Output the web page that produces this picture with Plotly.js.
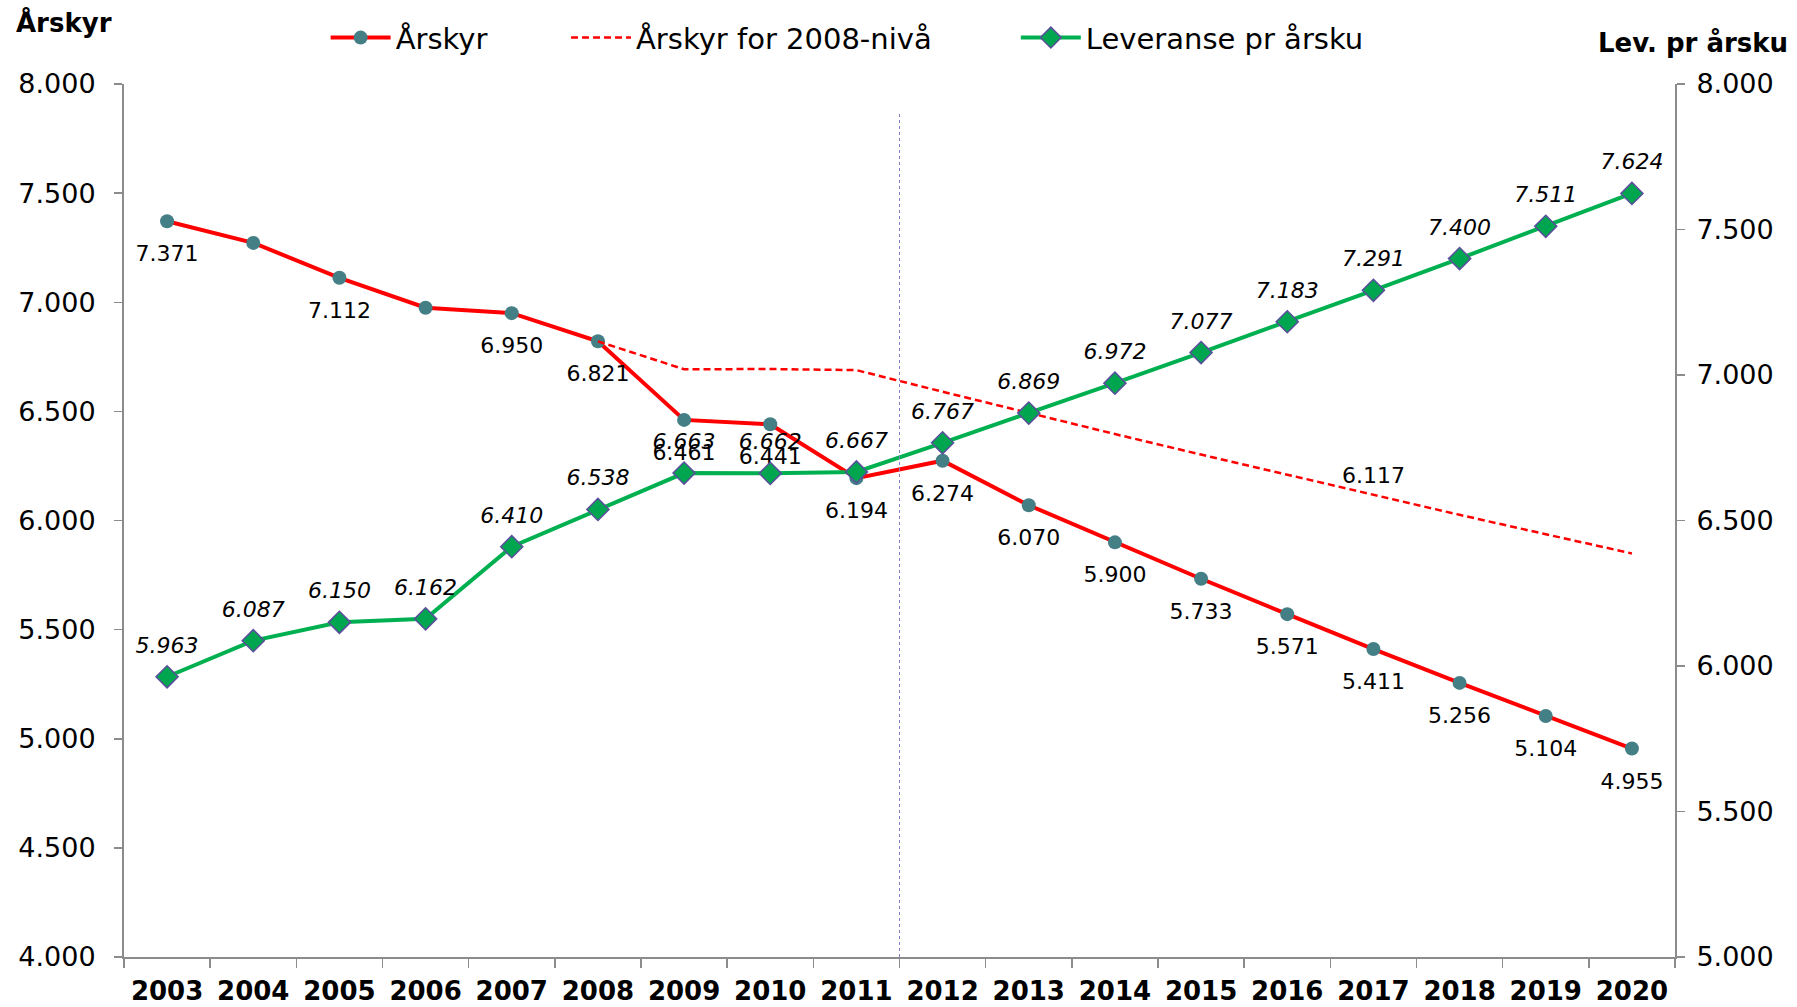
<!DOCTYPE html>
<html>
<head>
<meta charset="utf-8">
<script src="https://cdn.plot.ly/plotly-3.0.1.min.js"></script>
<style>html,body{margin:0;padding:0;background:#fff;}#chart{width:1797px;height:1007px;}</style>
</head>
<body>
<div id="chart"></div>
<script>
var years = ['2003','2004','2005','2006','2007','2008','2009','2010','2011','2012','2013','2014','2015','2016','2017','2018','2019','2020'];
var arskyr = [7371, 7272, 7112, 6975, 6950, 6821, 6461, 6441, 6194, 6274, 6070, 5900, 5733, 5571, 5411, 5256, 5104, 4955];
var arskyrLabelShown = [true, false, true, false, true, true, true, true, true, true, true, true, true, true, true, true, true, true];
var arskyr2008 = [null, null, null, null, null, 6821, 6693, 6694, 6689, 6590, 6492, 6396, 6302, 6209, 6117, 6026, 5937, 5849];
var arskyr2008LabelYear = '2017';
var levPrArsku = [5963, 6087, 6150, 6162, 6410, 6538, 6663, 6662, 6667, 6767, 6869, 6972, 7077, 7183, 7291, 7400, 7511, 7624];

function fmt(v){
  var s = String(Math.round(v));
  return s.replace(/\B(?=(\d{3})+(?!\d))/g, '.');
}

var FONT = 'DejaVu Sans, Verdana, sans-serif';
var LABEL_SIZE = 22;

var tRed = {
  x: years, y: arskyr, name: 'Årskyr', type: 'scatter', mode: 'lines+markers',
  line: {color: '#FF0000', width: 4},
  marker: {symbol: 'circle', size: 14, color: '#457F86'},
  cliponaxis: false, yaxis: 'y', legend: 'legend'
};
var tDash = {
  x: years, y: arskyr2008, name: 'Årskyr for 2008-nivå', type: 'scatter', mode: 'lines',
  line: {color: '#FF0000', width: 2.5, dash: '7px,4px'},
  yaxis: 'y', connectgaps: false, legend: 'legend2'
};
var tGreen = {
  x: years, y: levPrArsku, name: 'Leveranse pr årsku', type: 'scatter', mode: 'lines+markers',
  line: {color: '#00B050', width: 4},
  marker: {symbol: 'diamond', size: 17, color: '#00A550', line: {color: '#5B4E9C', width: 1.5}},
  cliponaxis: false, yaxis: 'y2', legend: 'legend3'
};
// label traces (text only, transparent markers set the label offset)
var lRed = {
  x: years, y: arskyr, type: 'scatter', mode: 'markers+text', showlegend: false, hoverinfo: 'skip',
  marker: {size: 36, color: 'rgba(0,0,0,0)'},
  text: arskyr.map(function(v,i){return arskyrLabelShown[i] ? fmt(v) : '';}),
  textposition: 'bottom center',
  textfont: {family: FONT, size: LABEL_SIZE, color: '#000'},
  cliponaxis: false, yaxis: 'y'
};
var lDash = {
  x: years, y: arskyr2008, type: 'scatter', mode: 'markers+text', showlegend: false, hoverinfo: 'skip',
  marker: {size: 8, color: 'rgba(0,0,0,0)'},
  text: arskyr2008.map(function(v,i){return years[i] === arskyr2008LabelYear ? fmt(v) : '';}),
  textposition: 'top center',
  textfont: {family: FONT, size: LABEL_SIZE, color: '#000'},
  cliponaxis: false, yaxis: 'y'
};
var lGreen = {
  x: years, y: levPrArsku, type: 'scatter', mode: 'markers+text', showlegend: false, hoverinfo: 'skip',
  marker: {size: 28, color: 'rgba(0,0,0,0)'},
  text: levPrArsku.map(fmt),
  textposition: 'top center',
  textfont: {family: FONT, size: LABEL_SIZE, color: '#000', style: 'italic'},
  cliponaxis: false, yaxis: 'y2'
};

var axisLine = '#8C8C8C';
var legendFont = {family: FONT, size: 29, color: '#000'};
function leg(x){
  return {orientation: 'h', x: x, xanchor: 'left', y: 1.053, yanchor: 'middle',
          font: legendFont, bgcolor: 'rgba(0,0,0,0)', borderwidth: 0, itemwidth: 60};
}
var layout = {
  width: 1797, height: 1007,
  paper_bgcolor: '#fff', plot_bgcolor: '#fff',
  separators: ',.',
  font: {family: FONT, color: '#000'},
  margin: {l: 124, r: 122, t: 84, b: 50, autoexpand: false},
  showlegend: true,
  legend: leg(0.130),
  legend2: leg(0.285),
  legend3: leg(0.575),
  xaxis: {
    type: 'category', range: [-0.5, 17.5], showgrid: false, zeroline: false,
    showline: true, linecolor: axisLine, linewidth: 2,
    ticks: 'outside', tickson: 'boundaries', ticklen: 9, tickcolor: axisLine, tickwidth: 1.5,
    tickfont: {family: FONT, size: 26, color: '#000', weight: 'bold'},
    ticklabelstandoff: 10
  },
  yaxis: {
    range: [4000, 8000], dtick: 500, tick0: 4000, tickformat: ',.0f',
    showgrid: false, zeroline: false, showline: true, linecolor: axisLine, linewidth: 2,
    ticks: 'outside', ticklen: 8, tickcolor: axisLine, tickwidth: 1.5,
    tickfont: {family: FONT, size: 27, color: '#000'}, ticklabelstandoff: 13
  },
  yaxis2: {
    range: [5000, 8000], dtick: 500, tick0: 5000, tickformat: ',.0f',
    overlaying: 'y', side: 'right',
    showgrid: false, zeroline: false, showline: true, linecolor: axisLine, linewidth: 2,
    ticks: 'outside', ticklen: 8, tickcolor: axisLine, tickwidth: 1.5,
    tickfont: {family: FONT, size: 27, color: '#000'}, ticklabelstandoff: 6
  },
  shapes: [{
    type: 'line', xref: 'x', yref: 'paper', x0: 8.5, x1: 8.5, y0: 0, y1: 0.968,
    line: {color: '#7F7FC8', width: 1, dash: 'dot'}
  }],
  annotations: [
    {text: '<b>Årskyr</b>', xref: 'paper', yref: 'paper', x: -0.071, y: 1.07, xanchor: 'left', yanchor: 'middle',
     showarrow: false, font: {family: FONT, size: 26, color: '#000'}},
    {text: '<b>Lev. pr årsku</b>', xref: 'paper', yref: 'paper', x: 1.074, y: 1.048, xanchor: 'right', yanchor: 'middle',
     showarrow: false, font: {family: FONT, size: 26, color: '#000'}}
  ]
};

Plotly.newPlot('chart', [tRed, tDash, tGreen, lRed, lDash, lGreen], layout, {displayModeBar: false, staticPlot: true});
</script>
</body>
</html>
